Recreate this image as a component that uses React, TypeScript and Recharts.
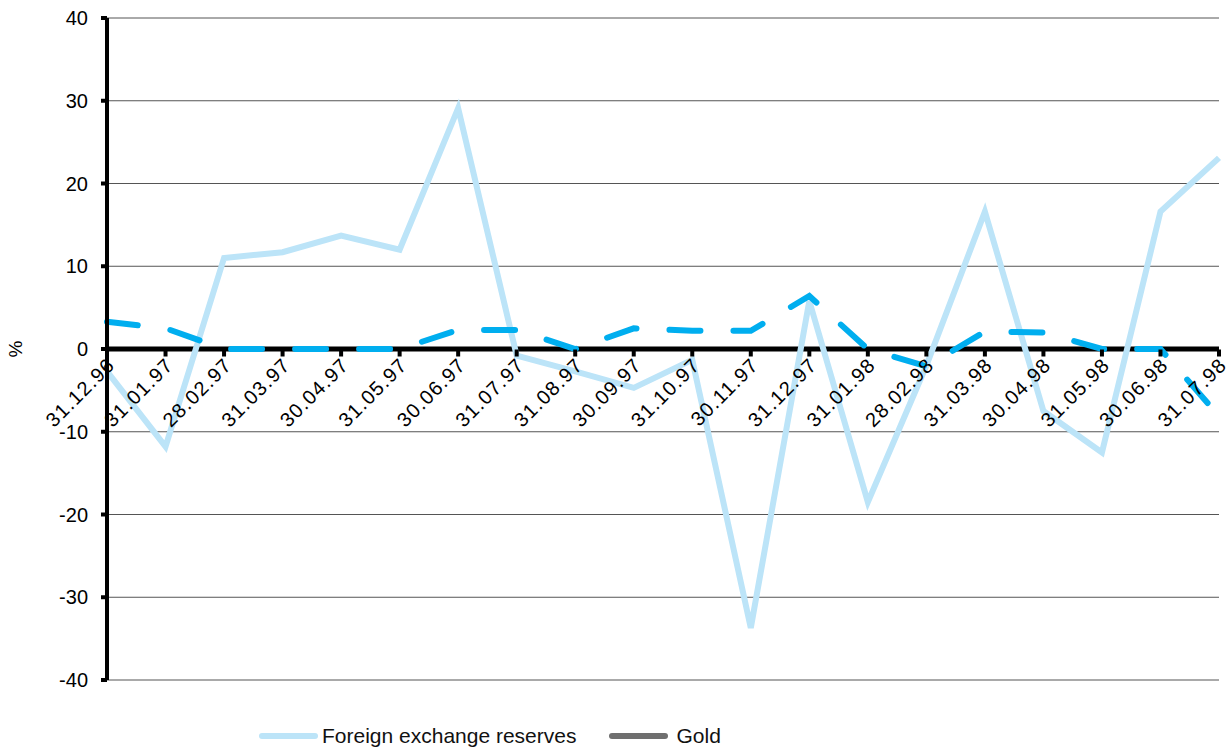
import { LineChart, Line, XAxis, YAxis, CartesianGrid, ReferenceLine } from 'recharts'

const dates = [
  '31.12.96', '31.01.97', '28.02.97', '31.03.97', '30.04.97', '31.05.97', '30.06.97',
  '31.07.97', '31.08.97', '30.09.97', '31.10.97', '30.11.97', '31.12.97', '31.01.98',
  '28.02.98', '31.03.98', '30.04.98', '31.05.98', '30.06.98', '31.07.98',
]
const fxReserves = [
  -2.7, -11.8, 11, 11.7, 13.7, 12, 29.1, -0.8, -2.7, -4.7, -1.3, -33.7, 5.8, -18.5,
  -2, 16.6, -7.5, -12.5, 16.6, 23.1,
]
const gold = [
  3.3, 2.5, 0, 0, 0, 0, 2.3, 2.3, 0, 2.5, 2.2, 2.2, 6.4, 0, -2.1, 2.1, 2.0, 0, 0, -8.1,
]
const yTicks = [-40, -30, -20, -10, 0, 10, 20, 30, 40]

const W = 1229
const H = 753
const M = { top: 18, right: 10, bottom: 72, left: 47 }
const PLOT_H = H - M.top - M.bottom
const ZERO_Y = M.top + PLOT_H * (40 / 80)
const FONT = '"Liberation Sans", Arial, sans-serif'

const data = dates.map((d, i) => ({ date: d, fx: fxReserves[i], gold: gold[i] }))

function DateTick(props: any) {
  const { x, payload } = props
  const ax = x - 1
  const ay = ZERO_Y + 7
  return (
    <g>
      <line x1={x} x2={x} y1={ZERO_Y} y2={ZERO_Y + 7} stroke="#000" strokeWidth={4} />
      <text
        x={ax}
        y={ay}
        dy="0.7em"
        transform={`rotate(-45 ${ax} ${ay})`}
        textAnchor="end"
        fontSize={20}
        letterSpacing={1.2}
        fontFamily={FONT}
        fill="#000"
      >
        {payload.value}
      </text>
    </g>
  )
}

export default function App() {
  return (
    <div style={{ position: 'absolute', left: 0, top: 0, width: W, height: H, fontFamily: FONT, background: '#fff' }}>
      <LineChart width={W} height={H} data={data} margin={M}>
        <CartesianGrid vertical={false} stroke="#555" strokeWidth={1} />
        <XAxis
          dataKey="date"
          interval={0}
          axisLine={false}
          tickLine={false}
          tick={<DateTick />}
          height={1}
        />
        <YAxis
          domain={[-40, 40]}
          ticks={yTicks}
          width={60}
          axisLine={{ stroke: '#000', strokeWidth: 4 }}
          tickLine={{ stroke: '#000', strokeWidth: 4 }}
          tickSize={6}
          tickMargin={13}
          tick={{ fill: '#000', fontSize: 20, fontFamily: FONT }}
        />
        <ReferenceLine y={0} stroke="#000" strokeWidth={5} />
        <Line
          dataKey="fx"
          stroke="#BCE4F8"
          strokeWidth={6}
          dot={false}
          isAnimationActive={false}
        />
        <Line
          dataKey="gold"
          stroke="#00AEEF"
          strokeWidth={6}
          strokeDasharray="31 33"
          strokeLinecap="round"
          dot={false}
          isAnimationActive={false}
        />
      </LineChart>
      <div
        style={{
          position: 'absolute',
          left: 8,
          top: ZERO_Y - 12,
          fontSize: 19,
          transform: 'rotate(-90deg)',
          color: '#000',
        }}
      >
        %
      </div>
      <div style={{ position: 'absolute', left: 259, top: 724, display: 'flex', alignItems: 'center', fontSize: 21, color: '#111' }}>
        <span style={{ width: 59, height: 6, borderRadius: 3, background: '#BCE4F8', marginRight: 4 }} />
        <span>Foreign exchange reserves</span>
        <span style={{ width: 59, height: 6, borderRadius: 3, background: '#6F6F6F', marginLeft: 33, marginRight: 8 }} />
        <span>Gold</span>
      </div>
    </div>
  )
}
